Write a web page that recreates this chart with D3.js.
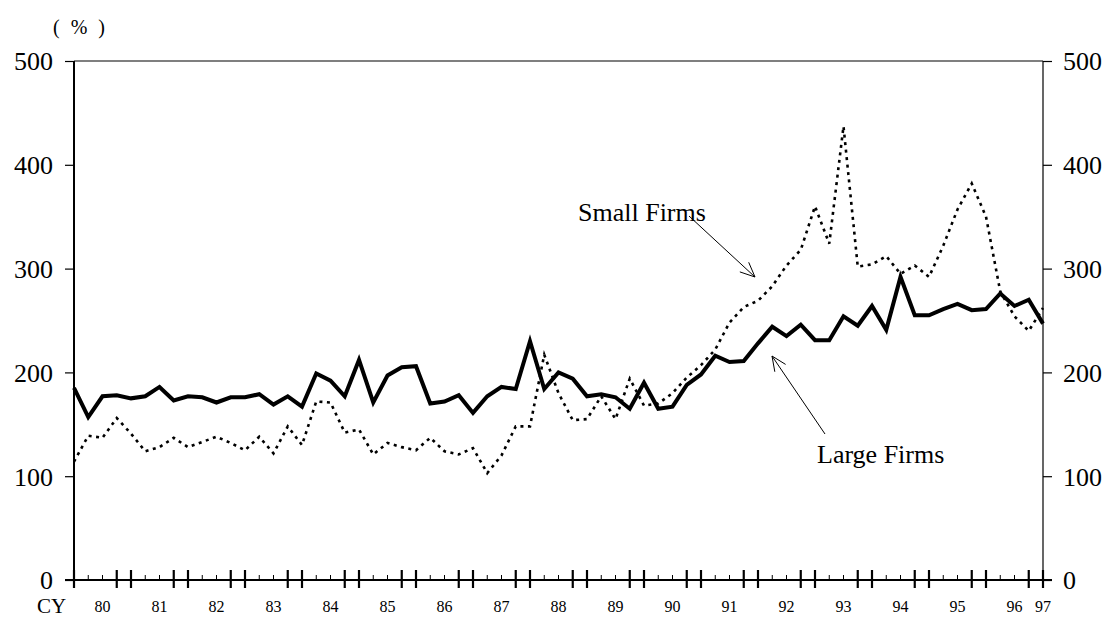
<!DOCTYPE html>
<html>
<head>
<meta charset="utf-8">
<script src="https://cdn.jsdelivr.net/npm/d3@7"></script>
<style>
	body { margin: 0; background: #ffffff; }
	text { font-family: 'Liberation Serif', 'Times New Roman', serif; fill: #000000; }
</style>
</head>
<body>
<div id="chart_div" style="width:1109px;height:619px;"></div>
<script>
// quarterly, 1980 Q1 .. 1997 Q1
var year_labels = ['80', '81', '82', '83', '84', '85', '86', '87', '88', '89', '90', '91', '92', '93', '94', '95', '96', '97'];
var y_ticks = [0, 100, 200, 300, 400, 500];

var large_firms = [
	185, 157, 177, 178, 175, 177, 186, 173, 177, 176, 171, 176, 176, 179, 169, 177, 167,
	199, 192, 177, 212, 171, 197, 205, 206, 170, 172, 178, 161, 177, 186, 184, 230, 184,
	200, 194, 177, 179, 176, 165, 190, 165, 167, 188, 198, 216, 210, 211, 228, 244, 235,
	246, 231, 231, 254, 245, 264, 241, 292, 255, 255, 261, 266, 260, 261, 276, 264, 270, 247
];
var small_firms = [
	114, 139, 137, 156, 141, 124, 128, 137, 128, 133, 138, 132, 125, 138, 122, 148, 130,
	172, 171, 142, 145, 121, 132, 128, 125, 137, 124, 121, 127, 103, 120, 148, 148, 217,
	180, 154, 155, 177, 155, 194, 168, 170, 180, 195, 207, 222, 248, 263, 269, 283, 303,
	318, 360, 324, 437, 302, 304, 312, 295, 303, 292, 322, 357, 382, 350, 278, 254, 240, 262
];

var chart = { left: 74, right: 1043, top: 61, bottom: 580 };

function draw_chart() {
	var svg = d3.select('#chart_div').append('svg')
		.attr('width', 1109)
		.attr('height', 619);

	var x = d3.scaleLinear().domain([0, large_firms.length - 1]).range([chart.left, chart.right]);
	var y = d3.scaleLinear().domain([0, 500]).range([chart.bottom, chart.top]);

	// y axes, left and right
	var left_axis = d3.axisLeft(y).tickValues(y_ticks).tickSize(9).tickPadding(12);
	var right_axis = d3.axisRight(y).tickValues(y_ticks).tickSize(9).tickPadding(11);

	var gl = svg.append('g').attr('transform', 'translate(' + chart.left + ',0)').call(left_axis);
	var gr = svg.append('g').attr('transform', 'translate(' + chart.right + ',0)').call(right_axis);
	[gl, gr].forEach(function (g) {
		g.select('.domain').remove();
		g.selectAll('.tick line').attr('stroke', '#000').attr('stroke-width', 1.2);
		g.selectAll('.tick text')
			.attr('font-size', 26)
			.attr('font-family', "'Liberation Serif', serif")
			.attr('dy', '0.34em');
	});

	svg.append('line')
		.attr('x1', chart.left).attr('x2', chart.left)
		.attr('y1', chart.top).attr('y2', chart.bottom)
		.attr('stroke', '#000').attr('stroke-width', 2);
	svg.append('line')
		.attr('x1', chart.right).attr('x2', chart.right)
		.attr('y1', chart.top).attr('y2', chart.bottom)
		.attr('stroke', '#000').attr('stroke-width', 1.2);
	svg.append('line')
		.attr('x1', chart.left).attr('x2', chart.right)
		.attr('y1', chart.top).attr('y2', chart.top)
		.attr('stroke', '#000').attr('stroke-width', 1.2);
	svg.append('line')
		.attr('x1', chart.left - 9).attr('x2', chart.right + 9)
		.attr('y1', chart.bottom).attr('y2', chart.bottom)
		.attr('stroke', '#000').attr('stroke-width', 2);

	// quarter ticks: long double ticks around each year change
	var quarters = d3.range(large_firms.length);
	svg.append('g').selectAll('line')
		.data(quarters)
		.enter()
		.append('line')
		.attr('x1', (d) => x(d))
		.attr('x2', (d) => x(d))
		.attr('y1', (d) => (d % 4 === 0 || d % 4 === 3 ? chart.bottom - 10 : chart.bottom - 5))
		.attr('y2', (d) => (d % 4 === 0 || d % 4 === 3 ? chart.bottom + 8 : chart.bottom))
		.attr('stroke', '#000')
		.attr('stroke-width', (d) => (d % 4 === 0 || d % 4 === 3 ? 2.2 : 1));

	svg.append('g').selectAll('text')
		.data(year_labels)
		.enter()
		.append('text')
		.attr('x', function (d, i) {
			return i === year_labels.length - 1 ? x(large_firms.length - 1) : x(i * 4 + 2);
		})
		.attr('y', 612)
		.attr('text-anchor', 'middle')
		.attr('font-size', 16)
		.text((d) => d);

	svg.append('text')
		.attr('x', 37)
		.attr('y', 613)
		.attr('font-size', 21)
		.text('CY');

	svg.append('text')
		.attr('x', 53)
		.attr('y', 34)
		.attr('font-size', 20)
		.attr('letter-spacing', 3)
		.text('( % )');

	var line = d3.line()
		.x((d, i) => x(i))
		.y((d) => y(d));

	svg.append('path')
		.datum(small_firms)
		.attr('d', line)
		.attr('fill', 'none')
		.attr('stroke', '#000')
		.attr('stroke-width', 2.6)
		.attr('stroke-dasharray', '3,4.5');

	svg.append('path')
		.datum(large_firms)
		.attr('d', line)
		.attr('fill', 'none')
		.attr('stroke', '#000')
		.attr('stroke-width', 4)
		.attr('stroke-linejoin', 'miter');

	// annotations
	draw_arrow(svg, 689, 216, 755, 277);
	draw_arrow(svg, 825, 434, 772, 356);

	svg.append('text')
		.attr('x', 578)
		.attr('y', 221)
		.attr('font-size', 26)
		.text('Small Firms');

	svg.append('text')
		.attr('x', 817)
		.attr('y', 463)
		.attr('font-size', 26)
		.text('Large Firms');
}

function draw_arrow(svg, x1, y1, x2, y2) {
	var ang = Math.atan2(y2 - y1, x2 - x1);
	var head = 16;
	var spread = 0.42;
	svg.append('line')
		.attr('x1', x1).attr('y1', y1)
		.attr('x2', x2).attr('y2', y2)
		.attr('stroke', '#000').attr('stroke-width', 1);
	svg.append('path')
		.attr('d', 'M' + (x2 - head * Math.cos(ang - spread)) + ',' + (y2 - head * Math.sin(ang - spread)) +
			'L' + x2 + ',' + y2 +
			'L' + (x2 - head * Math.cos(ang + spread)) + ',' + (y2 - head * Math.sin(ang + spread)))
		.attr('fill', 'none')
		.attr('stroke', '#000')
		.attr('stroke-width', 1);
}

draw_chart();
</script>
</body>
</html>
